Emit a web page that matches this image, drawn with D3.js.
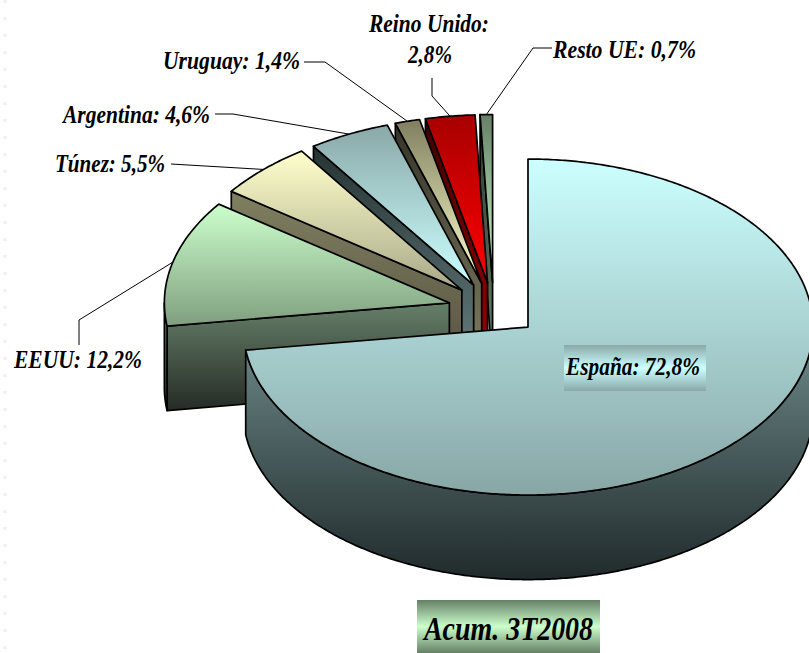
<!DOCTYPE html>
<html>
<head>
<meta charset="utf-8">
<script src="https://cdn.jsdelivr.net/npm/d3@7/dist/d3.min.js"></script>
<style>html,body{margin:0;padding:0;background:#fff;overflow:hidden}svg{display:block}
text{font-family:"Liberation Serif",serif;font-style:italic;font-weight:bold;fill:#000}</style>
</head>
<body>
<svg id="c" width="809" height="653"></svg>
<script>
// Data
const categories = ["España", "EEUU", "Túnez", "Argentina", "Uruguay", "Reino Unido", "Resto UE"];
const shares = [72.8, 12.2, 5.5, 4.6, 1.4, 2.8, 0.7];
const shareLabels = ["72,8%", "12,2%", "5,5%", "4,6%", "1,4%", "2,8%", "0,7%"];
const periodTitle = "Acum. 3T2008";

// Styles
const topFrom  = ["#ccffff", "#ccffcc", "#ffffcc", "#8aa8a8", "#7f7f60", "#a80000", "#668066"];
const topTo    = ["#88a6a6", "#7f9f7f", "#a8a888", "#ccffff", "#ffffcc", "#ff0000", "#ccffcc"];
const wallFrom = ["#6f8b8b", "#66806a", "#807f60", "#263333", "#33332a", "#400000", "#2f3a2f"];
const wallTo   = ["#202a2b", "#252c25", "#555040", "#667f80", "#807f60", "#a00000", "#668066"];

// Layout
const cx = 493.6, cy = 309.4, rx = 285, ry = 168, depth = 84.5, explode = 0.16;
const labelBox = [[566, 375, 134], [14, 368, 128], [55, 172, 110], [63, 123, 147], [163, 69, 137], [369, 32, 120], [553, 58, 143]];
const secondLine = [408, 63, 44];
const leaderPath = [null, [[79, 345], [79, 320]], [[171, 164]], [[215, 114], [233, 114]],
                    [[304, 62], [325, 62]], [[432, 78], [432, 96]], [[552, 48], [533, 48]]];

const svg = d3.select("#c");
const defs = svg.append("defs");
const X = d3.scaleLinear().domain([-1, 1]).range([-rx, rx]);
const Y = d3.scaleLinear().domain([-1, 1]).range([-ry, ry]);

const slices = d3.pie().sort(null).startAngle(0).endAngle(2 * Math.PI)(shares);
const line = d3.line();

function grad(id, from, to, mid) {
  const g = defs.append("linearGradient").attr("id", id).attr("x1", 0).attr("y1", 0).attr("x2", 0).attr("y2", 1);
  g.append("stop").attr("offset", 0).attr("stop-color", from);
  if (mid) g.append("stop").attr("offset", 0.5).attr("stop-color", mid);
  g.append("stop").attr("offset", 1).attr("stop-color", to);
}
function centerOf(s) {
  const m = (s.startAngle + s.endAngle) / 2;
  return [cx + explode * X(Math.sin(m)), cy + explode * Y(-Math.cos(m))];
}
function rim(c, a, dy = 0) {
  return [c[0] + X(Math.sin(a)), c[1] + Y(-Math.cos(a)) + dy];
}
function arcPts(c, a0, a1, dy = 0) {
  const n = Math.max(2, Math.ceil(Math.abs(a1 - a0) / 0.01));
  return d3.range(n + 1).map(i => rim(c, a0 + (a1 - a0) * i / n, dy));
}

// faint page edge marks
svg.append("line").attr("x1", 5).attr("x2", 5).attr("y1", 0).attr("y2", 653)
  .attr("stroke", "#f9eef1").attr("stroke-width", 4).attr("stroke-dasharray", "3 14");

// painter's order: from the last slice back to the first
d3.range(slices.length).reverse().forEach(i => {
  const s = slices[i], c = centerOf(s);
  grad("t" + i, topFrom[i], topTo[i]);
  grad("w" + i, wallFrom[i], wallTo[i]);
  const g = svg.append("g");
  const wallStyle = sel => sel.attr("fill", `url(#w${i})`).attr("stroke", "#000").attr("stroke-width", 1.7).attr("stroke-linejoin", "round");
  if (s.startAngle > Math.PI) {
    const p = rim(c, s.startAngle);
    g.append("path").attr("d", line([c, p, [p[0], p[1] + depth], [c[0], c[1] + depth]]) + "Z").call(wallStyle);
  }
  const a0 = Math.max(s.startAngle, Math.PI / 2), a1 = Math.min(s.endAngle, 3 * Math.PI / 2);
  if (a1 > a0) {
    const pts = arcPts(c, a0, a1).concat(arcPts(c, a1, a0, depth));
    g.append("path").attr("d", line(pts) + "Z").call(wallStyle);
  }
  const top = [c].concat(arcPts(c, s.startAngle, s.endAngle));
  g.append("path").attr("d", line(top) + "Z").attr("fill", `url(#t${i})`)
    .attr("stroke", "#000").attr("stroke-width", 1.7).attr("stroke-linejoin", "round");
});

// leader lines
slices.forEach((s, i) => {
  if (!leaderPath[i]) return;
  const end = rim(centerOf(s), (s.startAngle + s.endAngle) / 2);
  svg.append("path").attr("d", line(leaderPath[i].concat([end])))
    .attr("fill", "none").attr("stroke", "#000").attr("stroke-width", 1);
});

// España label plate
grad("plate0", "#8aa8a8", "#8aa8a8", "#ccffff");
svg.append("rect").attr("x", 564).attr("y", 345).attr("width", 142).attr("height", 46).attr("fill", "url(#plate0)");

function squeezed(x, y, w, size, str) {
  svg.append("text").attr("x", x).attr("y", y).attr("font-size", size)
    .attr("textLength", w).attr("lengthAdjust", "spacingAndGlyphs").text(str);
}
categories.forEach((name, i) => {
  const [x, y, w] = labelBox[i];
  if (name === "Reino Unido") {
    squeezed(x, y, w, 25, name + ":");
    squeezed(secondLine[0], secondLine[1], secondLine[2], 25, shareLabels[i]);
  } else {
    squeezed(x, y, w, 25, name + ": " + shareLabels[i]);
  }
});

// title plate
grad("plate1", "#668066", "#668066", "#ccffcc");
svg.append("rect").attr("x", 417).attr("y", 600).attr("width", 183).attr("height", 53).attr("fill", "url(#plate1)");
squeezed(424, 640, 169, 34, periodTitle);
</script>
</body>
</html>
